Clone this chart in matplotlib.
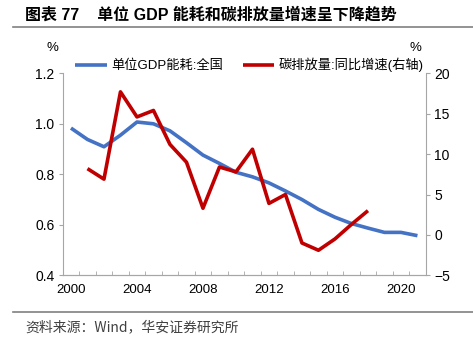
import matplotlib
matplotlib.use("Agg")
from matplotlib import pyplot as plt
from matplotlib.ticker import FixedLocator
import numpy as np

plt.rcParams['font.family'] = ['Liberation Sans', 'Noto Sans CJK SC', 'DejaVu Sans']

years = list(range(2000, 2022))
gdp_energy = [0.983, 0.938, 0.909, 0.955, 1.007, 1.000, 0.972, 0.925, 0.876, 0.843,
              0.808, 0.790, 0.766, 0.734, 0.700, 0.661, 0.630, 0.605, 0.587, 0.570,
              0.570, 0.557]
carbon_years = list(range(2001, 2019))
carbon_growth = [8.2, 6.9, 17.7, 14.6, 15.4, 11.2, 9.0, 3.3, 8.4, 7.8,
                 10.6, 3.9, 5.0, -1.0, -1.9, -0.5, 1.3, 3.0]
xlabels = ['2000', '2004', '2008', '2012', '2016', '2020']

blue = '#4472C4'
red = '#C00000'
gray = '#A6A6A6'

fig = plt.figure(figsize=(4.73, 3.5), dpi=100)
ax = fig.add_axes([0.1326, 0.2134, 0.9 - 0.1326, 0.7906 - 0.2134])
ax2 = ax.twinx()

x1 = np.array(years) - 2000
x2 = np.array(carbon_years) - 2000
l1, = ax.plot(x1, gdp_energy, color=blue, lw=2.6, solid_capstyle='butt')
l2, = ax2.plot(x2, carbon_growth, color=red, lw=2.6, solid_capstyle='butt')

ax.set_xlim(-0.5, 21.5)
ax.set_ylim(0.4, 1.2)
ax2.set_ylim(-5, 20)
ax.set_yticks([0.4, 0.6, 0.8, 1.0, 1.2])
ax.set_yticklabels(['0.4', '0.6', '0.8', '1.0', '1.2'])
ax2.set_yticks([-5, 0, 5, 10, 15, 20])

ax.set_xticks([0, 4, 8, 12, 16, 20])
ax.set_xticklabels(xlabels)
ax.tick_params(axis='x', which='major', length=0, pad=6)
ax.xaxis.set_minor_locator(FixedLocator(np.arange(-0.5, 22, 1)))
ax.tick_params(axis='x', which='minor', direction='in', length=3, color=gray)

for a in (ax, ax2):
    a.spines['top'].set_visible(False)
    for s in ('left', 'right', 'bottom'):
        a.spines[s].set_color(gray)
    a.tick_params(axis='y', direction='out', length=3, color=gray, labelsize=10, pad=3)
ax.tick_params(axis='x', labelsize=9.5)
ax2.spines['left'].set_visible(False)
ax.spines['right'].set_visible(False)

fig.legend([l1, l2], ['单位GDP能耗:全国', '碳排放量:同比增速(右轴)'],
           loc='center', bbox_to_anchor=(0.527, 0.814), ncol=2, frameon=False,
           handlelength=2.4, handletextpad=0.3, columnspacing=1.5,
           prop={'family': ['Liberation Sans', 'Noto Sans CJK SC'], 'size': 9.5})

fig.text(52 / 473, 1 - 48 / 350, '%', ha='center', va='center', fontsize=9.5)
fig.text(415 / 473, 1 - 48 / 350, '%', ha='center', va='center', fontsize=9.5)

fig.text(25 / 473, 1 - 15 / 350, '图表 77    单位 GDP 能耗和碳排放量增速呈下降趋势',
         ha='left', va='center', fontsize=11.5, fontweight='bold',
         family=['Liberation Sans', 'Noto Sans CJK SC'])
fig.add_artist(plt.Line2D([13 / 473, 1], [1 - 26.7 / 350] * 2, color='#808080', lw=1.2))
fig.add_artist(plt.Line2D([13 / 473, 1], [1 - 312.3 / 350] * 2, color='#808080', lw=1.2))
fig.text(25 / 473, 1 - 327 / 350, '资料来源：Wind，华安证券研究所', ha='left', va='center',
         fontsize=10, color='#404040', family=['Noto Sans CJK SC', 'Liberation Sans'])

fig.savefig('out.png', dpi=100)
